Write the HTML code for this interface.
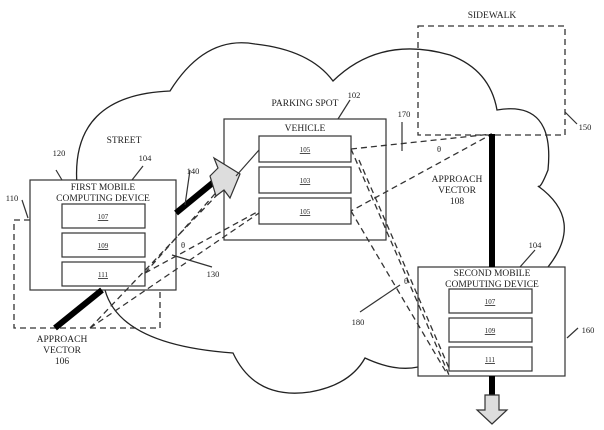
<!DOCTYPE html>
<html><head><style>html,body{margin:0;padding:0;background:#fff}svg{display:block}text{font-family:"Liberation Serif",serif;fill:#222}</style></head><body>
<svg width="604" height="430" viewBox="0 0 604 430">
<rect width="604" height="430" fill="#fff"/>
<g fill="none" stroke="#222" stroke-width="1.3">
<path d="M77,185 Q70,95 170,91 Q205,35 255,44 Q310,50 333,81 Q380,35 450,55 Q490,70 497,110 Q555,100 548,170 Q540,190 538,186 Q585,220 548,267"/>
<path d="M105,290 Q120,345 233,353 Q255,400 310,392 Q350,385 365,358 Q395,372 418,367"/>
</g>
<g fill="#fff" stroke="#333" stroke-width="1.2">
<rect x="30" y="180" width="146" height="110"/>
<rect x="62" y="204" width="83" height="24"/><rect x="62" y="233" width="83" height="24"/><rect x="62" y="262" width="83" height="24"/>
<rect x="224" y="119" width="162" height="121"/>
<rect x="259" y="136" width="92" height="26"/><rect x="259" y="167" width="92" height="26"/><rect x="259" y="198" width="92" height="26"/>
<rect x="418" y="267" width="147" height="109"/>
<rect x="449" y="289" width="83" height="24"/><rect x="449" y="318" width="83" height="24"/><rect x="449" y="347" width="83" height="24"/>
</g>
<g fill="none" stroke="#333" stroke-width="1.3" stroke-dasharray="6,4">
<path d="M30,220 H14 V328 H160 V290"/>
<rect x="418" y="26" width="147" height="109"/>
<path d="M351,149 L492,134 L351,211"/>
<path d="M145,273 L236,170 M145,273 L259,211 M90,328 L236,175 M90,328 L259,213"/>
<path d="M351,149 L449,375 M351,211 L446,372 M359,160 L449,368"/>
</g>
<g stroke="#000" stroke-width="6" fill="none">
<line x1="55" y1="328" x2="102" y2="290"/><line x1="176" y1="213" x2="215" y2="181"/>
<line x1="492" y1="134" x2="492" y2="267"/><line x1="492" y1="376" x2="492" y2="396"/>
</g>
<path d="M210,176 L218,168 L214,158 L240,174 L230,198 L224,190 L216,196 Z" fill="#ddd" stroke="#333" stroke-width="1.2"/>
<path d="M485,395 H499 V410 H507 L492,424 L477,410 H485 Z" fill="#ddd" stroke="#333" stroke-width="1.2"/>
<g stroke="#333" stroke-width="1.2" fill="none">
<line x1="236" y1="176" x2="259" y2="150"/>
<line x1="56" y1="170" x2="62" y2="180"/><line x1="143" y1="166" x2="132" y2="180"/>
<line x1="22" y1="200" x2="28" y2="218"/><line x1="190" y1="170" x2="185" y2="205"/>
<line x1="172" y1="255" x2="212" y2="267"/><line x1="350" y1="100" x2="338" y2="119"/>
<line x1="402" y1="122" x2="402" y2="151"/><line x1="565" y1="112" x2="577" y2="124"/>
<line x1="535" y1="250" x2="520" y2="267"/><line x1="567" y1="338" x2="578" y2="328"/>
<line x1="360" y1="312" x2="400" y2="285"/>
</g>
<g font-size="9.5" text-anchor="middle">
<text x="124" y="143">STREET</text>
<text x="103" y="190">FIRST MOBILE</text><text x="103" y="201">COMPUTING DEVICE</text>
<text x="305" y="106">PARKING SPOT</text><text x="305" y="131">VEHICLE</text>
<text x="492" y="18">SIDEWALK</text>
<text x="492" y="276">SECOND MOBILE</text><text x="492" y="287">COMPUTING DEVICE</text>
<text x="457" y="182">APPROACH</text><text x="457" y="193">VECTOR</text><text x="457" y="204">108</text>
<text x="62" y="342">APPROACH</text><text x="62" y="353">VECTOR</text><text x="62" y="364">106</text>
</g>
<g font-size="8.5" text-anchor="middle">
<text x="59" y="156">120</text><text x="145" y="161">104</text><text x="12" y="201">110</text>
<text x="193" y="174">140</text><text x="213" y="277">130</text><text x="183" y="248">θ</text>
<text x="354" y="98">102</text><text x="404" y="117">170</text><text x="439" y="152">θ</text>
<text x="585" y="130">150</text><text x="535" y="248">104</text><text x="588" y="333">160</text>
<text x="358" y="325">180</text><text x="406" y="284">θ</text>
</g>
<g font-size="7" text-anchor="middle" text-decoration="underline">
<text x="103" y="219">107</text><text x="103" y="248">109</text><text x="103" y="277">111</text>
<text x="305" y="152">105</text><text x="305" y="183">103</text><text x="305" y="214">105</text>
<text x="490" y="304">107</text><text x="490" y="333">109</text><text x="490" y="362">111</text>
</g>
</svg>
</body></html>
